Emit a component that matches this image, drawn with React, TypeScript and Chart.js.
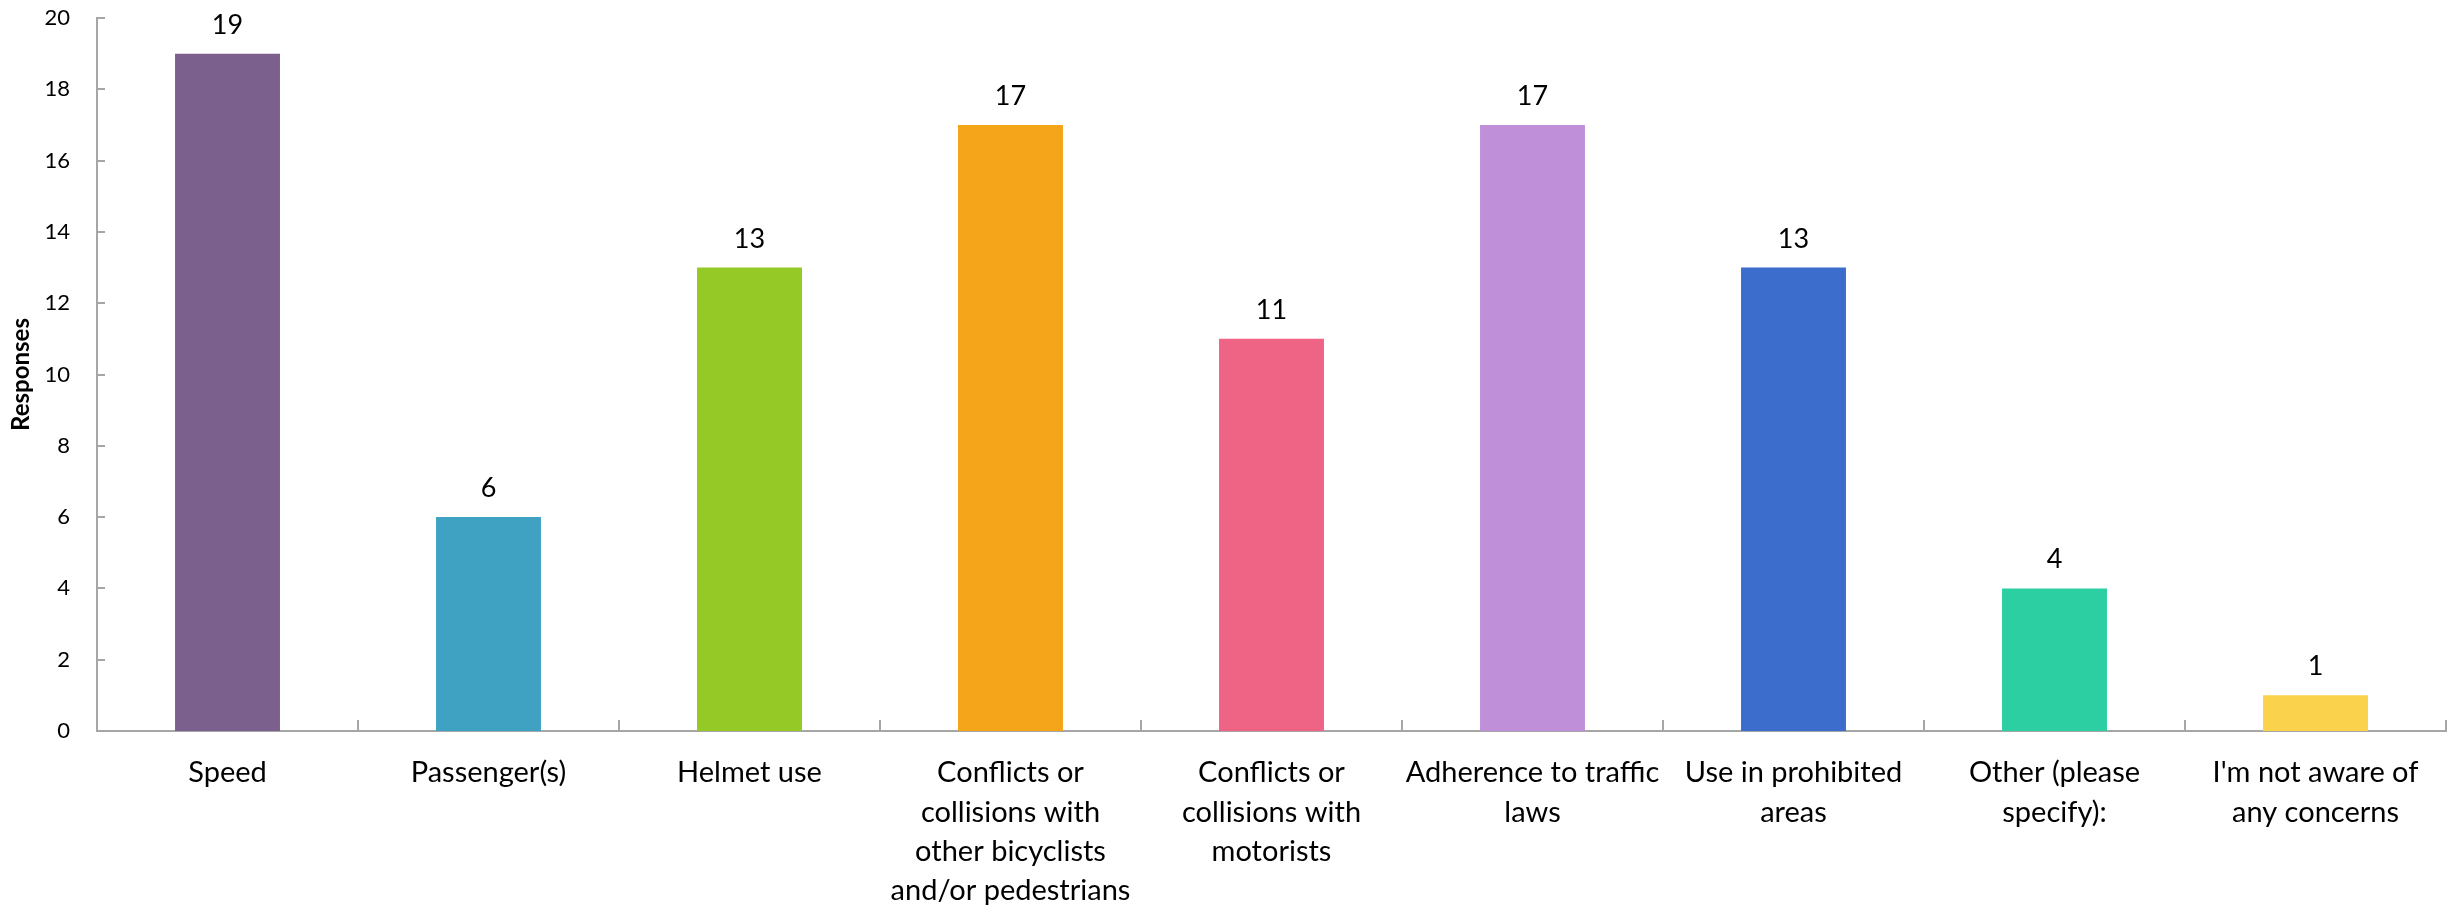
import React, { useEffect, useRef } from "react";
import { Chart, registerables } from "chart.js";

Chart.register(...registerables);

const categories: (string | string[])[] = [
  "Speed",
  "Passenger(s)",
  "Helmet use",
  ["Conflicts or", "collisions with", "other bicyclists", "and/or pedestrians"],
  ["Conflicts or", "collisions with", "motorists"],
  ["Adherence to traffic", "laws"],
  ["Use in prohibited", "areas"],
  ["Other (please", "specify):"],
  ["I'm not aware of", "any concerns"],
];

const responses = [19, 6, 13, 17, 11, 17, 13, 4, 1];

const barColors = [
  "#7B5F8D",
  "#3FA2C3",
  "#95C925",
  "#F4A51A",
  "#EF6384",
  "#BF8FD9",
  "#3C6CCC",
  "#2BCFA2",
  "#FBD24B",
];

const yAxisTitle = "Responses";
const yMin = 0;
const yMax = 20;
const yStep = 2;

const FONT = "Lato, 'Noto Sans', sans-serif";
const AXIS_COLOR = "#A6A6A6";

const overlayPlugin = {
  id: "overlay",
  afterDatasetsDraw(chart: any) {
    const ctx = chart.ctx;
    const meta = chart.getDatasetMeta(0);
    ctx.save();
    ctx.fillStyle = "#000";
    ctx.font = `27px ${FONT}`;
    ctx.textAlign = "center";
    ctx.textBaseline = "alphabetic";
    meta.data.forEach((bar: any, i: number) => {
      ctx.fillText(String(responses[i]), bar.x, bar.y - 20);
    });
    ctx.restore();
  },
  afterDraw(chart: any) {
    const ctx = chart.ctx;
    const xs = chart.scales.x;
    const ys = chart.scales.y;
    const area = chart.chartArea;
    ctx.save();
    ctx.strokeStyle = AXIS_COLOR;
    ctx.lineWidth = 2;
    ctx.beginPath();
    ys.ticks.forEach((t: any) => {
      const py = Math.round(ys.getPixelForValue(t.value));
      ctx.moveTo(area.left, py);
      ctx.lineTo(area.left + 8, py);
    });
    const n = categories.length;
    for (let i = 1; i < n; i++) {
      const bx = Math.round((xs.getPixelForValue(i - 1) + xs.getPixelForValue(i)) / 2);
      ctx.moveTo(bx, area.bottom);
      ctx.lineTo(bx, area.bottom - 11);
    }
    ctx.moveTo(area.right, area.bottom);
    ctx.lineTo(area.right, area.bottom - 11);
    ctx.stroke();
    ctx.restore();
  },
};

export default function App() {
  const canvasRef = useRef<HTMLCanvasElement | null>(null);

  useEffect(() => {
    document.body.style.margin = "0";
    const canvas = canvasRef.current;
    if (!canvas) return;
    const chart = new Chart(canvas, {
      type: "bar",
      data: {
        labels: categories,
        datasets: [
          {
            data: responses,
            backgroundColor: barColors,
            borderWidth: 0,
            categoryPercentage: 1,
            barPercentage: 0.402,
          },
        ],
      },
      options: {
        animation: false,
        responsive: true,
        maintainAspectRatio: false,
        layout: { padding: { left: 0, right: 7, top: 18, bottom: 0 } },
        plugins: {
          legend: { display: false },
          tooltip: { enabled: false },
        },
        scales: {
          x: {
            grid: { display: false, drawTicks: false },
            border: { display: true, color: AXIS_COLOR, width: 2 },
            ticks: {
              color: "#000",
              font: { family: FONT, size: 29, lineHeight: 1.36 },
              padding: 22,
              maxRotation: 0,
              minRotation: 0,
              autoSkip: false,
            },
            afterFit: (scale: any) => {
              scale.height = 177;
            },
          },
          y: {
            min: yMin,
            max: yMax,
            grid: { display: false, drawTicks: false },
            border: { display: true, color: AXIS_COLOR, width: 2 },
            ticks: {
              stepSize: yStep,
              color: "#000",
              font: { family: FONT, size: 22 },
              padding: 27,
            },
            title: {
              display: true,
              text: yAxisTitle,
              color: "#000",
              font: { family: FONT, size: 24, weight: "bold" },
              padding: { top: 7, bottom: 0 },
            },
            afterFit: (scale: any) => {
              scale.width = 97;
              scale.paddingTop = 0;
              scale.paddingBottom = 0;
            },
          },
        },
      },
      plugins: [overlayPlugin],
    });
    return () => chart.destroy();
  }, []);

  return (
    <div style={{ width: "2453px", height: "908px", position: "relative" }}>
      <canvas ref={canvasRef} />
    </div>
  );
}
